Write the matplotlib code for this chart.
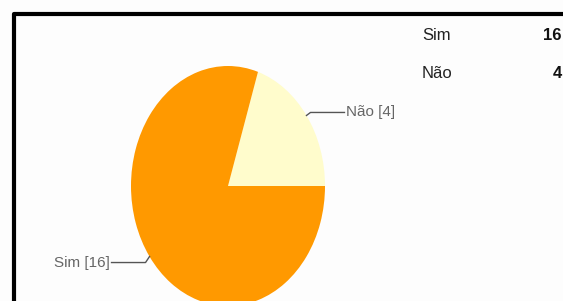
import numpy as np
import matplotlib
matplotlib.use("Agg")
import matplotlib.pyplot as plt
from matplotlib.lines import Line2D

# Data
labels = ["Não", "Sim"]
values = [4, 16]
colors = ["#FFFCCC", "#FF9900"]
legend_labels = ["Sim", "Não"]
legend_values = [16, 4]

W, H = 563, 301
fig = plt.figure(figsize=(W / 100, H / 100), dpi=100)
fig.patch.set_facecolor("#FDFDFD")

# pie axes placed in pixels so the pie comes out as a tall ellipse
cx, cy, rx, ry = 228, 186, 97, 120
ax = fig.add_axes([(cx - rx) / W, (H - cy - ry) / H, 2 * rx / W, 2 * ry / H])
ax.set_xlim(-1, 1)
ax.set_ylim(-1, 1)
ax.set_aspect("auto")
ax.axis("off")
wedges, _ = ax.pie(values, colors=colors, startangle=0, counterclock=True,
                   radius=1, wedgeprops=dict(linewidth=0))
ax.set_xlim(-1, 1)
ax.set_ylim(-1, 1)
ax.set_aspect("auto")

# overlay in figure pixel coords (y downwards)
ov = fig.add_axes([0, 0, 1, 1])
ov.set_xlim(0, W)
ov.set_ylim(H, 0)
ov.axis("off")
ov.patch.set_alpha(0)

# border
ov.add_line(Line2D([14, 14, W], [H, 14, 14], color="black", linewidth=3, solid_capstyle="butt"))

# leader lines and labels
for w, lab, v in zip(wedges, labels, values):
    mid = np.deg2rad((w.theta1 + w.theta2) / 2)
    px = cx + rx * np.cos(mid)
    py = cy - ry * np.sin(mid)
    side = 1 if np.cos(mid) > 0 else -1
    bx = px + side * 4
    by = py - 3 if side > 0 else py + 6
    ex = bx + side * 34
    ov.add_line(Line2D([px, bx, ex], [py, by, by], color="#555555", linewidth=1))
    ov.text(ex + side * 2, by, f"{lab} [{v}]", ha="left" if side > 0 else "right",
            va="center", fontsize=11, color="#666666", family="Liberation Sans")

# legend table top right
for i, (lab, v) in enumerate(zip(legend_labels, legend_values)):
    y = 36 + i * 37
    ov.text(422, y, lab, ha="left", va="center", fontsize=12, color="#222222",
            family="Liberation Sans")
    ov.text(562, y, str(v), ha="right", va="center", fontsize=12, color="#111111",
            fontweight="bold", family="Liberation Sans")

fig.savefig("out.png", dpi=100, facecolor=fig.get_facecolor())
